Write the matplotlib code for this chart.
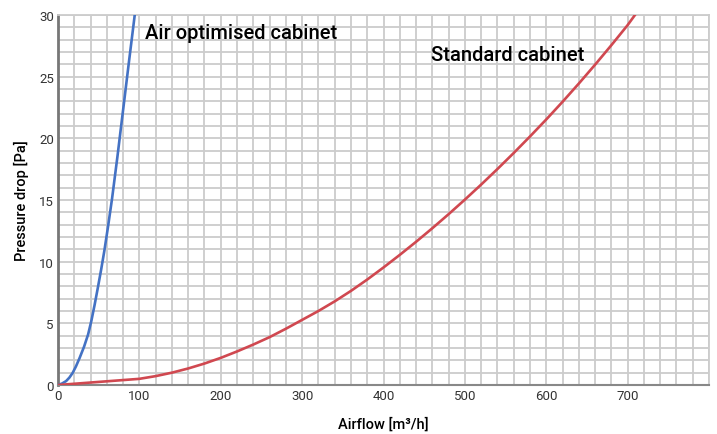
import numpy as np
import matplotlib
matplotlib.use('Agg')
import matplotlib.pyplot as plt
from matplotlib.ticker import MultipleLocator

plt.rcParams['font.family'] = ['Roboto', 'DejaVu Sans']

# air optimised cabinet
air_x = [0, 5, 10, 14, 18, 22, 26.6, 32, 37, 41, 45, 49, 53, 57, 61.5, 66.4, 73, 80, 87, 94.3]
air_y = [0, 0.12, 0.32, 0.6, 0.98, 1.5, 2.2, 3.1, 4.1, 5.2, 6.5, 7.9, 9.35, 10.9, 12.85, 15.1, 18.5, 22.3, 26.1, 30]

# standard cabinet
std_x = [0, 20, 40, 60, 80, 100, 120, 140, 160, 180, 200, 220, 240, 260, 280, 300,
         320, 340, 360, 380, 400, 420, 440, 460, 480, 500, 520, 540, 560, 580, 600,
         620, 640, 660, 680, 700, 709]
std_y = [0, 0.1, 0.2, 0.3, 0.4, 0.5, 0.72, 1.0, 1.34, 1.74, 2.2, 2.72, 3.28, 3.88, 4.56, 5.28,
         6.0, 6.78, 7.63, 8.55, 9.53, 10.55, 11.61, 12.71, 13.85, 15.03, 16.25, 17.51, 18.81, 20.15, 21.53,
         22.96, 24.44, 25.97, 27.55, 29.18, 30]

xticks = [0, 100, 200, 300, 400, 500, 600, 700]
yticks = [0, 5, 10, 15, 20, 25, 30]

fig = plt.figure(figsize=(7.17, 4.35), dpi=100)
ax = fig.add_axes([58/717, 49/435, 651/717, 370/435])

ax.plot(air_x, air_y, color='#4472c4', lw=1.9, solid_joinstyle='round', zorder=3)
ax.plot(std_x, std_y, color='#d04850', lw=1.9, solid_joinstyle='round', zorder=3)

ax.set_xlim(0, 800)
ax.set_ylim(0, 30)
ax.set_xticks(xticks)
ax.set_yticks(yticks)
ax.xaxis.set_minor_locator(MultipleLocator(20))
ax.yaxis.set_minor_locator(MultipleLocator(1))
ax.grid(which='both', color='#cccccc', lw=1.3)
ax.set_axisbelow(True)
ax.tick_params(which='both', length=0, labelsize=9.5, colors='#333333', pad=3)

for s in ['top', 'right']:
    ax.spines[s].set_color('#cccccc')
    ax.spines[s].set_linewidth(1.3)
ax.spines['left'].set_color('#777777')
ax.spines['left'].set_linewidth(2)
ax.spines['bottom'].set_color('#888888')
ax.spines['bottom'].set_linewidth(1.5)

ax.set_xlabel('Airflow [m³/h]', fontsize=10.5, fontweight='medium')
ax.set_ylabel('Pressure drop [Pa]', fontsize=10.5, fontweight='medium')
ax.xaxis.set_label_coords(0.5, -0.085)
ax.yaxis.set_label_coords(-0.045, 0.5)

ax.text(107, 28.6, 'Air optimised cabinet', fontsize=14.5, fontweight='medium', va='center', ha='left')
ax.text(458, 26.8, 'Standard cabinet', fontsize=14.5, fontweight='medium', va='center', ha='left')

fig.savefig('out.png', dpi=100)
